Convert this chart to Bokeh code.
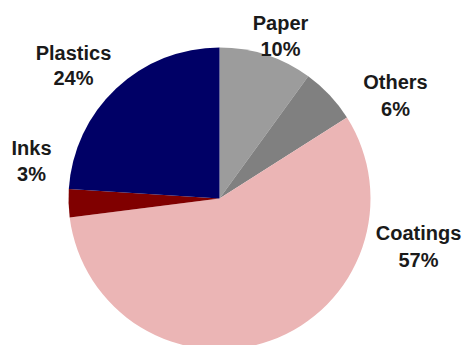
import math
from bokeh.plotting import figure
from bokeh.models import Range1d, ColumnDataSource
from bokeh.core.properties import value
from bokeh.embed import file_html
from bokeh.resources import INLINE

# ---- data ----
categories = ["Paper", "Others", "Coatings", "Inks", "Plastics"]
shares = [10, 6, 57, 3, 24]
colors = ["#9c9c9c", "#808080", "#ebb5b5", "#800000", "#000066"]

# ---- layout (picture pixels) ----
W, H = 462, 345
cx, cy_pic, R = 219, 198, 151
# label centres (picture px): x, name line y, percent line y
label_pos = [(280, 22, 48), (395, 81, 108), (418, 232, 259), (31, 147, 173), (73, 52, 77)]

total = float(sum(shares))
starts, ends = [], []
cum = 0.0
for s in shares:
    starts.append(math.pi / 2 - 2 * math.pi * cum / total)
    cum += s
    ends.append(math.pi / 2 - 2 * math.pi * cum / total)

p = figure(width=W, height=H, output_backend="svg", toolbar_location=None,
           x_range=Range1d(0, W), y_range=Range1d(0, H), min_border=0)
p.axis.visible = False
p.grid.visible = False
p.outline_line_color = None
p.background_fill_color = "white"
p.border_fill_color = "white"

src = ColumnDataSource(dict(start=starts, end=ends, color=colors, cat=categories))
p.wedge(x=cx, y=H - cy_pic, radius=R, start_angle="start", end_angle="end",
        direction="clock", fill_color="color", line_color=None, source=src)

names_src = ColumnDataSource(dict(
    x=[lp[0] for lp in label_pos],
    y1=[H - lp[1] for lp in label_pos],
    y2=[H - lp[2] for lp in label_pos],
    name=categories,
    pct=[f"{s}%" for s in shares],
))
for ycol, tcol in (("y1", "name"), ("y2", "pct")):
    p.text(x="x", y=ycol, text=tcol, source=names_src, text_align="center",
           text_baseline="middle", text_font=value("Liberation Sans"),
           text_font_style="bold", text_font_size="20px", text_color="#1a1a1a")

open("out.html", "w").write(file_html(p, INLINE))
